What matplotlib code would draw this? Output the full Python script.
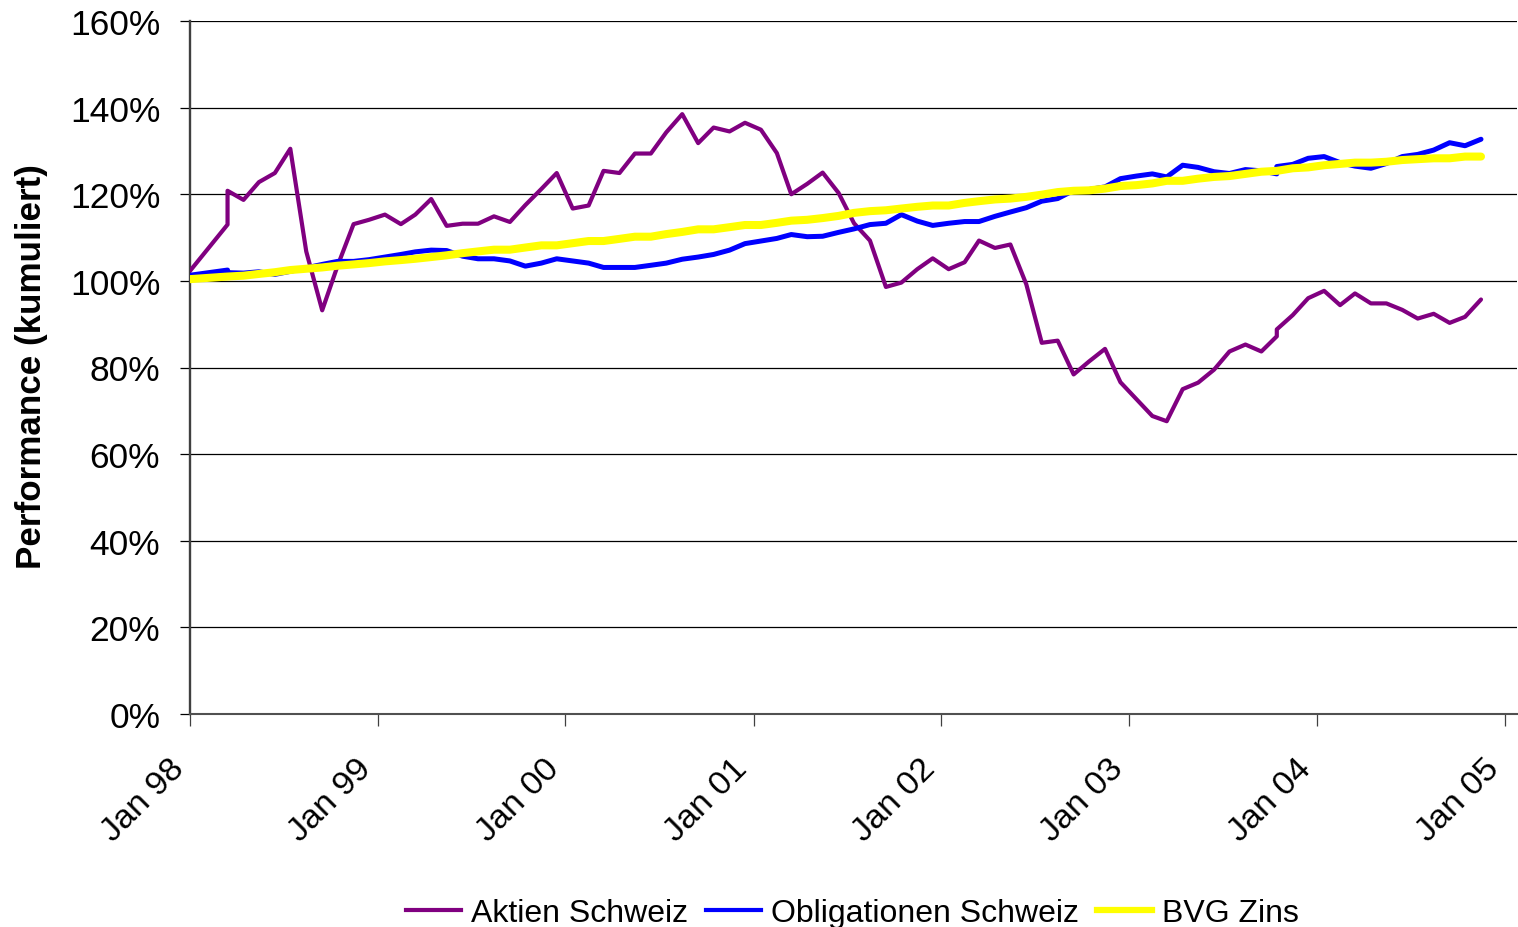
import matplotlib
matplotlib.use('Agg')
import matplotlib.pyplot as plt
import pandas as pd
from matplotlib.lines import Line2D

plt.rcParams['font.family'] = ['Liberation Sans', 'DejaVu Sans']

# ---- data -------------------------------------------------------------
# x positions: start point, a double point in Mar 98, monthly mid-month
# values, a double point in Oct 03, then monthly to Nov 04
dates = (['1998-01-01', '1998-03-15', '1998-03-15']
         + [d.strftime('%Y-%m-%d') for d in pd.date_range('1998-04-01', '2003-09-01', freq='MS') + pd.Timedelta(days=14)]
         + ['2003-10-15', '2003-10-15']
         + [d.strftime('%Y-%m-%d') for d in pd.date_range('2003-11-01', '2004-11-01', freq='MS') + pd.Timedelta(days=14)])

aktien = [102.3, 113.0, 120.8, 118.7, 122.8, 124.9, 130.5, 106.8, 93.2, 103.5, 113.1, 114.1,
          115.3, 113.1, 115.3, 118.9, 112.7, 113.2, 113.2, 114.9, 113.6, 117.5, 121.2, 124.9,
          116.7, 117.4, 125.4, 124.9, 129.4, 129.4, 134.3, 138.5, 131.8, 135.4, 134.5, 136.5,
          134.9, 129.5, 120.0, 122.4, 125.0, 120.3, 113.3, 109.3, 98.6, 99.6, 102.7, 105.2,
          102.7, 104.3, 109.3, 107.6, 108.4, 99.2, 85.7, 86.2, 78.4, 81.4, 84.3, 76.6,
          72.7, 68.8, 67.6, 75.0, 76.5, 79.5, 83.7, 85.3, 83.7, 87.2, 88.8, 92.1, 96.0,
          97.7, 94.4, 97.1, 94.8, 94.8, 93.3, 91.3, 92.4, 90.3, 91.7, 95.7]

obligationen = [101.3, 102.5, 101.9, 101.8, 102.1, 101.5, 102.2, 103.0, 103.8, 104.5, 104.5, 104.9,
                105.5, 106.1, 106.7, 107.1, 107.0, 105.7, 105.1, 105.1, 104.6, 103.4, 104.1, 105.1,
                104.6, 104.1, 103.1, 103.1, 103.1, 103.6, 104.1, 105.0, 105.5, 106.1, 107.1, 108.6,
                109.2, 109.8, 110.7, 110.2, 110.3, 111.2, 112.0, 113.0, 113.3, 115.3, 113.8, 112.8,
                113.3, 113.7, 113.7, 114.9, 115.9, 116.9, 118.4, 119.0, 120.9, 121.1, 121.7, 123.6,
                124.2, 124.7, 124.0, 126.7, 126.2, 125.2, 124.8, 125.7, 125.4, 124.7, 126.4, 126.9, 128.3,
                128.7, 127.3, 126.5, 126.0, 127.1, 128.7, 129.2, 130.2, 131.9, 131.2, 132.7]

bvg = [100.4, 101.0, 101.0, 101.2, 101.6, 102.0, 102.5, 102.8, 103.1, 103.5, 103.8, 104.1,
       104.5, 104.8, 105.1, 105.5, 105.9, 106.4, 106.8, 107.2, 107.2, 107.7, 108.2, 108.2,
       108.7, 109.2, 109.2, 109.7, 110.2, 110.2, 110.8, 111.3, 111.9, 111.9, 112.4, 112.9,
       112.9, 113.4, 113.9, 114.1, 114.5, 115.0, 115.7, 116.1, 116.3, 116.7, 117.1, 117.4,
       117.4, 118.0, 118.4, 118.8, 119.0, 119.4, 119.9, 120.5, 120.8, 120.9, 121.3, 121.9,
       122.1, 122.5, 123.1, 123.1, 123.6, 124.0, 124.2, 124.7, 125.2, 125.4, 125.4, 126.0, 126.2,
       126.7, 127.0, 127.3, 127.3, 127.5, 127.9, 128.1, 128.3, 128.3, 128.7, 128.7]

series_names = ['Aktien Schweiz', 'Obligationen Schweiz', 'BVG Zins']
x_tick_dates = ['1998-01-01', '1999-01-01', '2000-01-01', '2001-01-01',
                '2002-01-01', '2003-01-01', '2004-01-01', '2005-01-01']
x_tick_labels = ['Jan 98', 'Jan 99', 'Jan 00', 'Jan 01', 'Jan 02', 'Jan 03', 'Jan 04', 'Jan 05']
y_ticks = [0, 20, 40, 60, 80, 100, 120, 140, 160]
y_tick_labels = ['0%', '20%', '40%', '60%', '80%', '100%', '120%', '140%', '160%']
y_label = 'Performance (kumuliert)'

# ---- figure -----------------------------------------------------------
W, H = 1518, 928
fig = plt.figure(figsize=(W / 100, H / 100), dpi=100)
ax = fig.add_axes([190 / W, (H - 715) / H, 1327 / W, 693 / H])

x = pd.to_datetime(dates)
colors = ['#800080', '#0000FF', '#FFFF00']
widths = [3.0, 3.6, 5.8]
for vals, c, lw in zip([aktien, obligationen, bvg], colors, widths):
    ax.plot(x, vals, color=c, lw=lw, solid_joinstyle='round', solid_capstyle='round', zorder=3)

ax.set_xlim(pd.Timestamp('1998-01-01'), pd.Timestamp('2005-01-24'))
ax.set_ylim(0, 160)
ax.set_yticks(y_ticks)
ax.set_yticklabels(y_tick_labels, fontsize=25.5)
ax.set_xticks(pd.to_datetime(x_tick_dates))
ax.set_xticklabels(x_tick_labels, fontsize=24.5, rotation=45, ha='right', va='top')
ax.tick_params(axis='y', length=7.5, width=0.9, pad=14, color='black')
ax.tick_params(axis='x', length=8.5, width=0.9, pad=19, color='#404040')

ax.yaxis.grid(True, color='black', lw=0.9, zorder=1)
ax.set_axisbelow(True)
for s in ['top', 'right']:
    ax.spines[s].set_visible(False)
ax.spines['left'].set_color('#404040')
ax.spines['left'].set_linewidth(1.7)
ax.spines['bottom'].set_color('#505050')
ax.spines['bottom'].set_linewidth(1.5)

fig.text(32 / W, 1 - 367 / H, y_label, rotation=90, ha='center', va='center',
         fontsize=25.2, fontweight='bold')

handles = [Line2D([], [], color=c, lw=lw) for c, lw in zip(colors, [3.0, 3.0, 4.5])]
fig.legend(handles, series_names, loc='center', bbox_to_anchor=(852.5 / W, 1 - 914 / H),
           ncol=3, frameon=False, fontsize=23, handlelength=1.72, handletextpad=0.32,
           columnspacing=0.55, borderaxespad=0, borderpad=0)

fig.savefig('out.png', dpi=100)
